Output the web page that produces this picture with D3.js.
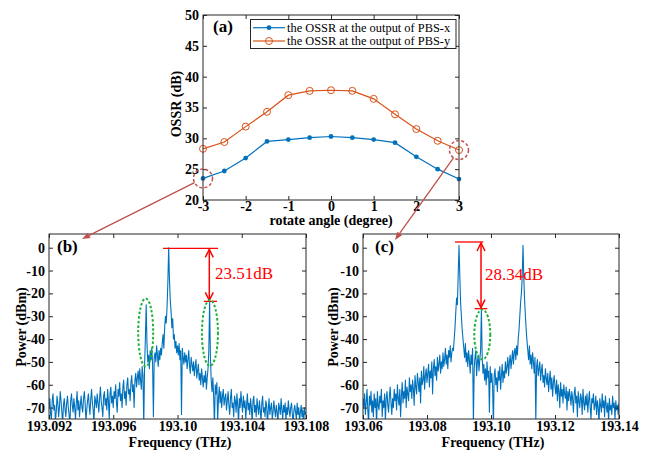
<!DOCTYPE html>
<html><head><meta charset="utf-8">
<script src="https://cdn.jsdelivr.net/npm/d3@7"></script>
<style>
body{margin:0;background:#fff;}
svg text{font-family:"Liberation Serif","Times New Roman",serif;}
</style></head><body>
<svg id="chart" width="651" height="451"></svg>
<script>
// ---------- Panel (a) data ----------
const angles = [-3,-2.5,-2,-1.5,-1,-0.5,0,0.5,1,1.5,2,2.5,3];
const ossrPBSx = [23.5,24.7,26.8,29.5,29.8,30.1,30.3,30.1,29.8,29.3,27.0,25.0,23.4];
const ossrPBSy = [28.3,29.4,31.9,34.3,37.0,37.7,37.8,37.7,36.4,33.9,31.5,29.6,28.1];
const seriesNames = ["the OSSR at the output of PBS-x","the OSSR at the output of PBS-y"];
const xTicksA = [-3,-2,-1,0,1,2,3];
const yTicksA = [20,25,30,35,40,45,50];

// ---------- Panel (b) spectrum: start frequency, sample step (THz), power (dBm) ----------
const specBStart = 193.092, specBStep = 0.00005;
const specB = [
 -70,-66,-73,-75,-67,-64,-71,-69,-76,-72,-65,-68,-74,-70,-63,-67,-72,-77,-69,-66,
 -71,-74,-68,-65,-70,-73,-78,-67,-64,-69,-72,-66,-70,-75,-68,-63,-71,-67,-74,-69,
 -65,-70,-72,-66,-63,-68,-76,-71,-67,-64,-69,-73,-66,-62,-68,-71,-77,-65,-67,-70,
 -64,-68,-72,-66,-61,-67,-70,-74,-65,-63,-69,-66,-71,-62,-67,-75,-64,-61,-68,-65,
 -70,-63,-66,-60,-68,-72,-62,-65,-59,-67,-64,-70,-61,-58,-66,-63,-69,-60,-57,-64,
 -62,-67,-59,-56,-63,-60,-70,-58,-55,-61,-57,-54,-60,-53,-58,-62,-52,-56,-78,-52,
 -40,-25,-42,-50,-47,-53,-45,-49,-44,-51,-74,-48,-46,-50,-43,-47,-52,-45,-49,-44,
 -47,-42,-38,-44,-35,-30,-33,-26,-15,0,-14,-23,-28,-35,-31,-40,-38,-44,-41,-46,
 -43,-47,-42,-49,-45,-73,-44,-48,-51,-46,-50,-47,-53,-49,-45,-52,-55,-48,-51,-54,
 -50,-56,-52,-49,-57,-54,-51,-58,-55,-60,-53,-57,-61,-56,-59,-54,-62,-57,-53,-45,
 -23.5,-48,-58,-63,-57,-65,-78,-60,-64,-59,-76,-66,-61,-68,-63,-70,-65,-62,-69,-66,
 -64,-71,-67,-63,-69,-73,-66,-62,-70,-68,-74,-65,-67,-72,-64,-69,-77,-66,-70,-63,
 -68,-72,-65,-70,-67,-75,-69,-64,-71,-68,-73,-66,-70,-77,-67,-65,-72,-69,-74,-66,
 -70,-73,-67,-71,-76,-68,-65,-72,-70,-74,-67,-69,-78,-71,-66,-73,-70,-68,-75,-72,
 -67,-71,-74,-69,-72,-77,-68,-70,-73,-66,-71,-75,-69,-72,-68,-76,-70,-73,-67,-71,
 -74,-70,-68,-73,-77,-71,-69,-72,-75,-68,-73,-70,-76,-72,-69,-74,-71,-78,-70,-73,-72
];
const xTicksB = [193.092,193.096,193.100,193.104,193.108];
const xTickLabelsB = ["193.092","193.096","193.10","193.104","193.108"];

// ---------- Panel (c) spectrum ----------
const specCStart = 193.06, specCStep = 0.00025;
const specC = [
 -66,-70,-64,-73,-68,-62,-71,-77,-65,-69,-63,-72,-67,-74,-64,-70,-66,-78,-63,-69,
 -71,-65,-68,-62,-74,-67,-70,-64,-76,-66,-63,-69,-72,-65,-61,-68,-73,-66,-70,-62,
 -67,-64,-71,-60,-66,-69,-62,-74,-65,-59,-68,-63,-66,-58,-70,-61,-64,-67,-57,-63,
 -60,-66,-58,-62,-69,-56,-61,-64,-55,-59,-63,-57,-68,-54,-60,-58,-52,-62,-56,-53,
 -59,-55,-51,-61,-54,-57,-50,-64,-53,-49,-56,-52,-58,-48,-54,-51,-47,-55,-50,-53,
 -46,-52,-49,-44,-51,-47,-53,-45,-48,-43,-50,-46,-44,-45,-40,-35,-28,-22,-25,-12,
 1,-12,-24,-30,-36,-40,-44,-48,-42,-50,-46,-52,-45,-49,-55,-47,-51,-44,-77,-53,
 -48,-45,-56,-50,-47,-54,-49,-45,-27,-48,-55,-51,-58,-53,-60,-50,-57,-54,-72,-52,
 -59,-55,-61,-78,-56,-53,-60,-57,-63,-54,-58,-52,-62,-56,-51,-59,-54,-57,-50,-55,
 -52,-48,-56,-50,-47,-53,-49,-45,-51,-46,-44,-49,-43,-47,-40,-36,-30,-24,-20,-13,
 1,-13,-23,-30,-36,-41,-45,-49,-43,-51,-47,-53,-46,-50,-55,-48,-76,-52,-49,-56,
 -53,-50,-58,-54,-51,-59,-56,-61,-53,-57,-60,-55,-63,-58,-54,-62,-57,-65,-59,-56,
 -61,-64,-58,-67,-60,-63,-70,-59,-65,-62,-68,-60,-64,-66,-61,-71,-63,-67,-62,-65,
 -69,-63,-66,-72,-64,-61,-68,-65,-74,-63,-67,-70,-64,-66,-73,-62,-68,-71,-65,-69,
 -64,-72,-67,-63,-70,-75,-66,-68,-64,-71,-69,-65,-73,-67,-70,-77,-66,-69,-72,-64,
 -70,-67,-74,-65,-69,-72,-68,-76,-66,-71,-69,-73,-65,-70,-68,-75,-67,-71,-69,-73,-68
];
const xTicksC = [193.06,193.08,193.10,193.12,193.14];
const xTickLabelsC = ["193.06","193.08","193.10","193.12","193.14"];

const yTicksSpec = [0,-10,-20,-30,-40,-50,-60,-70];

// annotation values (data units)
const annB = {top:-0.3, low:-23.5, topFrom:193.0991, topTo:193.10252, lowFrom:193.10165, lowTo:193.10246, arrowX:193.10198, label:"23.51dB", labelX:193.10233, labelY:-13.7,
  ellipses:[[193.09802,-37.1,7.5,34],[193.10202,-37.3,8,33]]};
const annC = {top:2.5, low:-26.7, topFrom:193.08875, topTo:193.0976, lowFrom:193.0949, lowTo:193.09884, arrowX:193.09688, label:"28.34dB", labelX:193.09813, labelY:-14.1,
  ellipses:[[193.09728,-38,8,25]]};

// ---------- drawing ----------
const svg = d3.select("#chart");
const blue = "#0072BD", orange = "#D95319", axisCol = "#262626";
const arrowCol = "#C0504D", red = "#FF0000", green = "#1DB33A";

const xA = d3.scaleLinear([-3,3],[203,459]);
const yA = d3.scaleLinear([20,50],[200,15]);
const xB = d3.scaleLinear([193.092,193.108],[49,306]);
const xC = d3.scaleLinear([193.06,193.14],[363,619]);
const yS = d3.scaleLinear([-75,6],[419,234]);

function drawAxes(x, y, xt, xl, yt, yl, xpad) {
  const [x0,x1] = x.range(), [yb,yt0] = y.range();
  const g = svg.append("g");
  const fmtX = (d)=> xl ? xl[xt.indexOf(d)] : d;
  const fmtY = (d)=> yl ? yl[yt.indexOf(d)] : d;
  g.append("g").attr("transform",`translate(0,${yb})`)
    .call(d3.axisBottom(x).tickValues(xt).tickFormat(fmtX).tickSizeInner(-4).tickSizeOuter(0).tickPadding(xpad));
  g.append("g").attr("transform",`translate(0,${yt0})`)
    .call(d3.axisTop(x).tickValues(xt).tickFormat("").tickSizeInner(-4).tickSizeOuter(0));
  g.append("g").attr("transform",`translate(${x0},0)`)
    .call(d3.axisLeft(y).tickValues(yt).tickFormat(fmtY).tickSizeInner(-4).tickSizeOuter(0).tickPadding(4));
  g.append("g").attr("transform",`translate(${x1},0)`)
    .call(d3.axisRight(y).tickValues(yt).tickFormat("").tickSizeInner(-4).tickSizeOuter(0));
  g.selectAll(".domain").remove();
  g.selectAll(".tick line").attr("stroke",axisCol);
  g.selectAll(".tick text").attr("fill","#000").style("font-size","14px").style("font-weight","bold")
   .style("font-family",'"Liberation Serif","Times New Roman",serif');
  g.append("rect").attr("x",x0).attr("y",yt0).attr("width",x1-x0).attr("height",yb-yt0)
   .attr("fill","none").attr("stroke",axisCol).attr("stroke-width",1);
  return g;
}

function title(x, y, txt, rot, size, weight, fill, anchor) {
  const t = svg.append("text").attr("x",x).attr("y",y).text(txt)
    .attr("font-size",size||14).attr("font-weight",weight||"bold").attr("fill",fill||"#000")
    .attr("text-anchor",anchor||"middle");
  if (rot) t.attr("transform",`rotate(-90,${x},${y})`);
  return t;
}

// ---- Panel (a)
const lineA = d3.line().x((d,i)=>xA(angles[i])).y(d=>yA(d));
svg.append("path").attr("d",lineA(ossrPBSy)).attr("fill","none").attr("stroke",orange).attr("stroke-width",1.2);
svg.append("path").attr("d",lineA(ossrPBSx)).attr("fill","none").attr("stroke",blue).attr("stroke-width",1.2);
svg.selectAll(".my").data(ossrPBSy).join("circle").attr("cx",(d,i)=>xA(angles[i])).attr("cy",d=>yA(d))
  .attr("r",3.5).attr("fill","none").attr("stroke",orange).attr("stroke-width",1);
svg.selectAll(".mx").data(ossrPBSx).join("circle").attr("cx",(d,i)=>xA(angles[i])).attr("cy",d=>yA(d))
  .attr("r",2.4).attr("fill",blue);
drawAxes(xA, yA, xTicksA, null, yTicksA, null, 1);
title(331, 225, "rotate angle (degree)");
title(181, 104, "OSSR (dB)", true);
title(213, 31.5, "(a)", false, 17, "bold", "#000", "start");

// legend
const lg = svg.append("g");
lg.append("rect").attr("x",250.5).attr("y",19.5).attr("width",205.5).attr("height",29).attr("fill","#fff").attr("stroke",axisCol).attr("stroke-width",1);
[[blue,true],[orange,false]].forEach(([c,filled],k)=>{
  const yy = 27.7 + k*13.3;
  lg.append("line").attr("x1",253).attr("x2",285).attr("y1",yy).attr("y2",yy).attr("stroke",c).attr("stroke-width",1.2);
  lg.append("circle").attr("cx",269).attr("cy",yy).attr("r",filled?2.4:3.5)
    .attr("fill",filled?c:"none").attr("stroke",filled?"none":c).attr("stroke-width",1);
  lg.append("text").attr("x",287).attr("y",yy+4).text(seriesNames[k]).attr("font-size",12.4).attr("fill","#000");
});

// ---- spectrum panels
function spectrum(x, data, start, step, id) {
  const [x0,x1] = x.range();
  svg.append("clipPath").attr("id",id).append("rect").attr("x",x0).attr("y",234).attr("width",x1-x0).attr("height",185);
  const ln = d3.line().x((d,i)=>x(start+i*step)).y(d=>yS(d));
  svg.append("path").attr("d",ln(data)).attr("clip-path",`url(#${id})`)
    .attr("fill","none").attr("stroke",blue).attr("stroke-width",1.1).attr("stroke-linejoin","round");
}
spectrum(xB, specB, specBStart, specBStep, "clipB");
spectrum(xC, specC, specCStart, specCStep, "clipC");
drawAxes(xB, yS, xTicksB, xTickLabelsB, yTicksSpec, null, 2);
drawAxes(xC, yS, xTicksC, xTickLabelsC, yTicksSpec, null, 2);
title(180, 447, "Frequency (THz)");
title(493, 447, "Frequency (THz)");
title(26, 327, "Power (dBm)", true);
title(338, 327, "Power (dBm)", true);
title(57, 252, "(b)", false, 17, "bold", "#000", "start");
title(375, 252, "(c)", false, 17, "bold", "#000", "start");

function annotate(x, a) {
  const g = svg.append("g");
  g.append("line").attr("x1",x(a.topFrom)).attr("x2",x(a.topTo)).attr("y1",yS(a.top)).attr("y2",yS(a.top)).attr("stroke",red).attr("stroke-width",1.3);
  g.append("line").attr("x1",x(a.lowFrom)).attr("x2",x(a.lowTo)).attr("y1",yS(a.low)).attr("y2",yS(a.low)).attr("stroke",red).attr("stroke-width",1.3);
  const ax = x(a.arrowX), yt = yS(a.top)+1, yb = yS(a.low)-1;
  g.append("line").attr("x1",ax).attr("x2",ax).attr("y1",yt).attr("y2",yb).attr("stroke",red).attr("stroke-width",1.5);
  g.append("path").attr("d",`M${ax-4},${yt+8}L${ax},${yt}L${ax+4},${yt+8}M${ax-4},${yb-8}L${ax},${yb}L${ax+4},${yb-8}`)
    .attr("fill","none").attr("stroke",red).attr("stroke-width",1.5);
  g.append("text").attr("x",x(a.labelX)).attr("y",yS(a.labelY)).text(a.label).attr("font-size",17).attr("fill",red);
  a.ellipses.forEach(e=>{
    g.append("ellipse").attr("cx",x(e[0])).attr("cy",yS(e[1])).attr("rx",e[2]).attr("ry",e[3])
      .attr("fill","none").attr("stroke",green).attr("stroke-width",2).attr("stroke-dasharray","2.5,2");
  });
}
annotate(xB, annB);
annotate(xC, annC);

// dashed circles in (a) and linking arrows
function linkArrow(cx, cy, tx, ty) {
  const r = 9.5;
  svg.append("circle").attr("cx",cx).attr("cy",cy).attr("r",r).attr("fill","none")
    .attr("stroke",arrowCol).attr("stroke-width",1.5).attr("stroke-dasharray","3,2.2");
  const dx = tx-cx, dy = ty-cy, L = Math.hypot(dx,dy), ux = dx/L, uy = dy/L;
  const sx = cx+ux*r, sy = cy+uy*r;
  const hx = tx-ux*8, hy = ty-uy*8;
  svg.append("line").attr("x1",sx).attr("y1",sy).attr("x2",hx).attr("y2",hy).attr("stroke",arrowCol).attr("stroke-width",1.3);
  svg.append("path").attr("d",`M${tx},${ty}L${hx-uy*3},${hy+ux*3}L${hx+uy*3},${hy-ux*3}Z`).attr("fill",arrowCol);
}
linkArrow(xA(angles[0]), yA(ossrPBSx[0]), xB.range()[0]+33, yS(6)+5);
linkArrow(xA(angles[12]), yA(ossrPBSy[12]), xC.range()[0]+32, yS(6)+6);
</script>
</body></html>
